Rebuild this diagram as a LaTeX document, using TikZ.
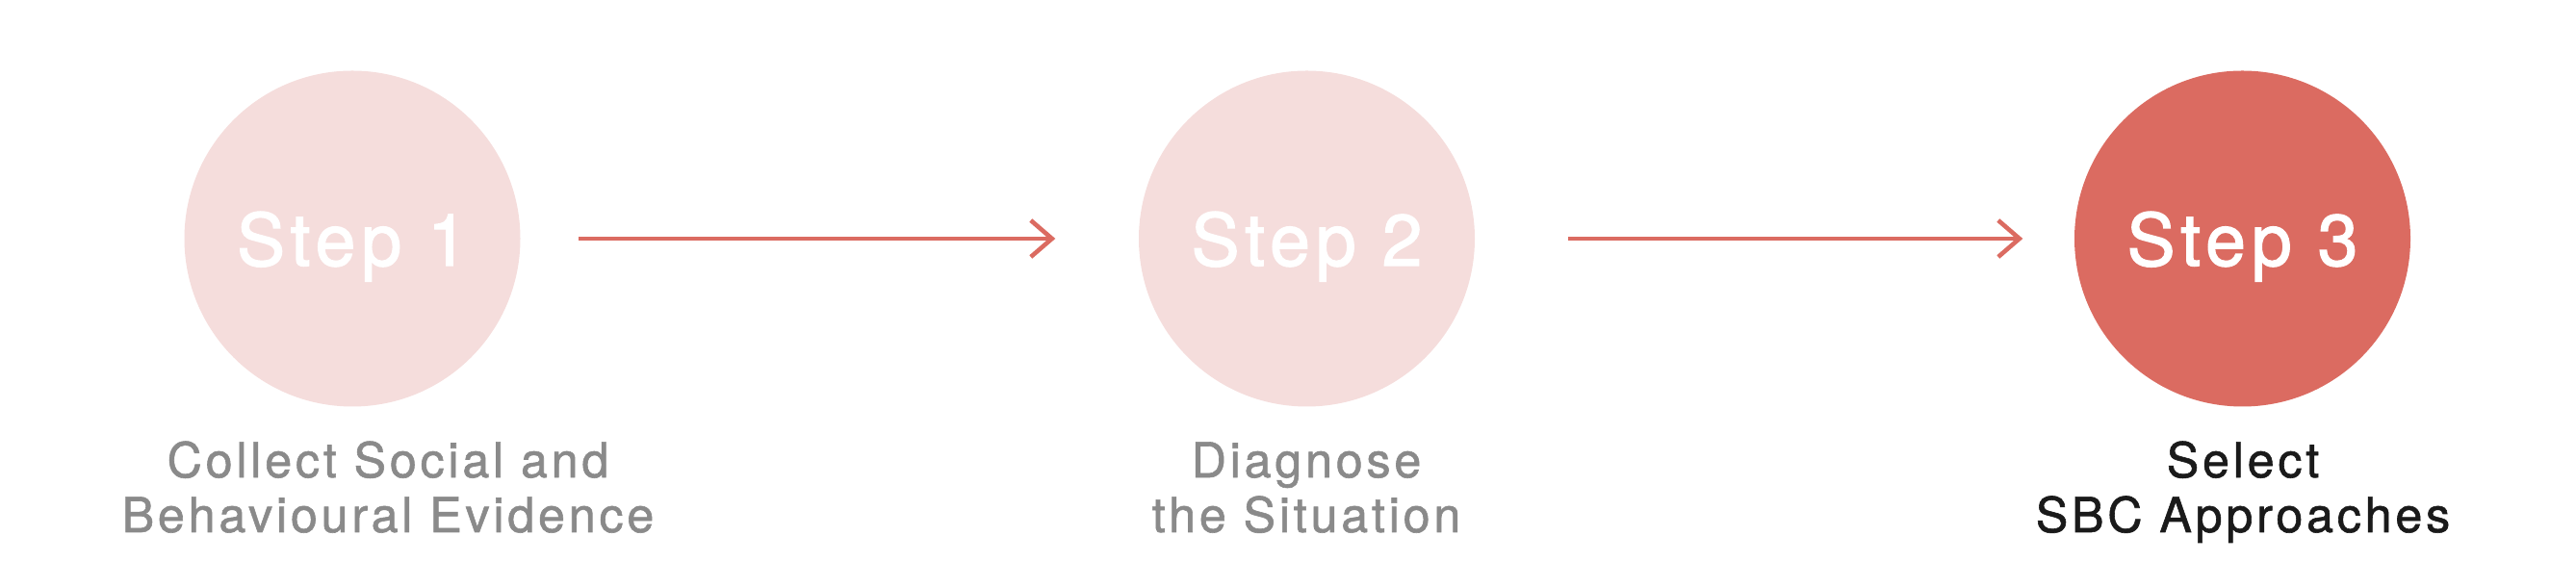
\documentclass[tikz,border=0pt]{standalone}
\usepackage{fontspec}
\usepackage{xcolor}
\usepackage{tikz}
\usetikzlibrary{arrows.meta}
\setmainfont{TeX Gyre Heros}
\definecolor{SBCPink}{HTML}{F5DDDC}
\definecolor{SBCCoral}{HTML}{DB6B61}
\definecolor{SBCGrey}{HTML}{8A8A8A}
\definecolor{SBCInk}{HTML}{1A1A1A}
\tikzset{
  stepdot/.style={circle,inner sep=0pt,minimum size=3.49cm,text depth=0pt,text=white,
    font=\fontsize{21.4}{24}\selectfont\addfontfeature{LetterSpace=8,FakeBold=1.7}},
  steplabel/.style={anchor=base,align=center,
    font=\fontsize{14.3}{16.2}\selectfont\addfontfeature{LetterSpace=7.5,FakeBold=1.2}},
  flow/.style={draw=SBCCoral,line width=1.3pt,-{Straight Barb[length=2.2mm,width=3.8mm]}}
}

\begin{document}
\begin{tikzpicture}[x=1cm,y=1cm]
\path[use as bounding box] (0,0) rectangle (26.76,6.10);
\node[stepdot,fill=SBCPink] (step1) at (3.66,3.62) {Step 1};
\node[stepdot,fill=SBCPink] (step2) at (13.575,3.62) {Step 2};
\node[stepdot,fill=SBCCoral] (step3) at (23.295,3.62) {Step 3};
% base is the last line, so y is the second baseline
\node[steplabel,text=SBCGrey] (label1) at (4.03,0.57) {Collect Social and\\Behavioural Evidence};
\node[steplabel,text=SBCGrey] (label2) at (13.57,0.57) {Diagnose\\the Situation};
\node[steplabel,text=SBCInk] (label3) at (23.30,0.57) {Select\\SBC Approaches};
\draw[flow,shorten <=0.60cm,shorten >=0.86cm] (step1) -- (step2);
\draw[flow,shorten <=0.96cm,shorten >=0.53cm] (step2) -- (step3);
\end{tikzpicture}
\end{document}
